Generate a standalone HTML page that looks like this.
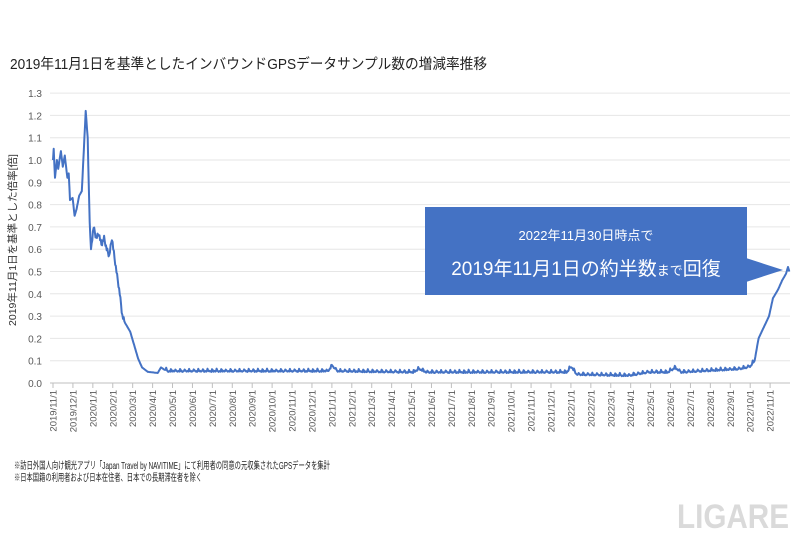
<!DOCTYPE html>
<html><head><meta charset="utf-8">
<style>
body{margin:0;background:#fff;width:800px;height:533px;overflow:hidden;font-family:"Liberation Sans","Noto Sans CJK JP",sans-serif;}
svg text{font-family:"Liberation Sans","Noto Sans CJK JP",sans-serif;}
</style></head><body>
<svg id="s" width="800" height="533" xmlns="http://www.w3.org/2000/svg">
<text x="10" y="69" font-size="14.5" fill="#222" textLength="477" lengthAdjust="spacingAndGlyphs">2019年11月1日を基準としたインバウンドGPSデータサンプル数の増減率推移</text>
<g id="grid"></g>
<text transform="translate(16,240) rotate(-90)" text-anchor="middle" font-size="10.5" fill="#333">2019年11月1日を基準とした倍率[倍]</text>
<polyline id="line" fill="none" stroke="#4472C4" stroke-width="2" stroke-linejoin="round"/>
<rect x="425" y="207" width="322" height="88" fill="#4472C4"/>
<polygon points="746,258 783,270 746,282" fill="#4472C4"/>
<text x="586" y="240" text-anchor="middle" font-size="13" fill="#fff">2022年11月30日時点で</text>
<text x="586" y="275" text-anchor="middle" font-size="19" fill="#fff">2019年11月1日の約半数<tspan font-size="13">まで</tspan>回復</text>
<text x="14" y="469" font-size="10" fill="#222" textLength="316" lengthAdjust="spacingAndGlyphs">※訪日外国人向け観光アプリ「Japan Travel by NAVITIME」にて利用者の同意の元収集されたGPSデータを集計</text>
<text x="14" y="481" font-size="10" fill="#222" textLength="188" lengthAdjust="spacingAndGlyphs">※日本国籍の利用者および日本在住者、日本での長期滞在者を除く</text>
<text x="789" y="528" text-anchor="end" font-size="34" fill="#dadada" font-weight="bold" textLength="112" lengthAdjust="spacingAndGlyphs">LIGARE</text>
</svg>
<script>
var ns="http://www.w3.org/2000/svg",g=document.getElementById("grid");
function el(t,a,txt){var e=document.createElementNS(ns,t);for(var k in a)e.setAttribute(k,a[k]);if(txt)e.textContent=txt;g.appendChild(e);return e;}
var y0=383,sc=223;
for(var i=0;i<=13;i++){var y=y0-i*0.1*sc;
 el("line",{x1:50,x2:790,y1:y,y2:y,stroke:i==0?"#bfbfbf":"#e6e6e6","stroke-width":1});
 el("text",{x:42,y:y+4,"text-anchor":"end","font-size":10,fill:"#595959"},(i/10).toFixed(1));}
var yr=2019,m=11;
for(var j=0;j<37;j++){var x=53+j*19.92;
 el("line",{x1:x,x2:x,y1:383,y2:388,stroke:"#bfbfbf"});
 el("text",{transform:"translate("+(x+3.5)+",390) rotate(-90)","text-anchor":"end","font-size":9.5,fill:"#595959"},yr+"/"+m+"/1");
 m++;if(m>12){m=1;yr++;}}
var k=[[0,1.0],[1,1.05],[3,0.92],[6,1.0],[8,0.96],[12,1.04],[15,0.97],[18,1.02],[22,0.92],[24,0.94],[26,0.82],[30,0.83],[33,0.75],[36,0.78],[40,0.84],[44,0.86],[48,1.1],[50,1.22],[53,1.1],[56,0.72],[58,0.60],[62,0.70],[66,0.65],[70,0.67],[74,0.62],[78,0.65],[82,0.60],[86,0.57],[90,0.65],[94,0.56],[98,0.48],[102,0.40],[106,0.30],[110,0.27],[118,0.23],[124,0.17],[130,0.11],[136,0.07],[145,0.05],[160,0.045],[165,0.07],[175,0.05],[420,0.05],[427,0.075],[434,0.05],[550,0.045],[560,0.06],[570,0.045],[785,0.045],[792,0.07],[800,0.035],[880,0.03],[910,0.045],[940,0.045],[950,0.065],[960,0.045],[1050,0.06],[1065,0.07],[1072,0.1],[1078,0.2],[1086,0.25],[1094,0.3],[1100,0.38],[1108,0.42],[1114,0.46],[1120,0.49],[1123,0.52],[1125,0.5]];
var pts=[],ki=0;
for(var d=0;d<=1125;d++){while(ki<k.length-2&&k[ki+1][0]<d)ki++;
 var a=k[ki],b=k[ki+1],t=(d-a[0])/(b[0]-a[0]);if(t<0)t=0;if(t>1)t=1;
 var v=a[1]+(b[1]-a[1])*t;
 if(d>170&&d<1070){var w=d%7;v+=(w==5?0.01:w==6?0.005:0)+((d*37)%11)/2200;}
 if(d<110&&d>58){v+=((d*13)%5-2)/200;}
 pts.push((53+d*0.6545).toFixed(1)+","+(y0-v*sc).toFixed(1));}
document.getElementById("line").setAttribute("points",pts.join(" "));
</script>
</body></html>
